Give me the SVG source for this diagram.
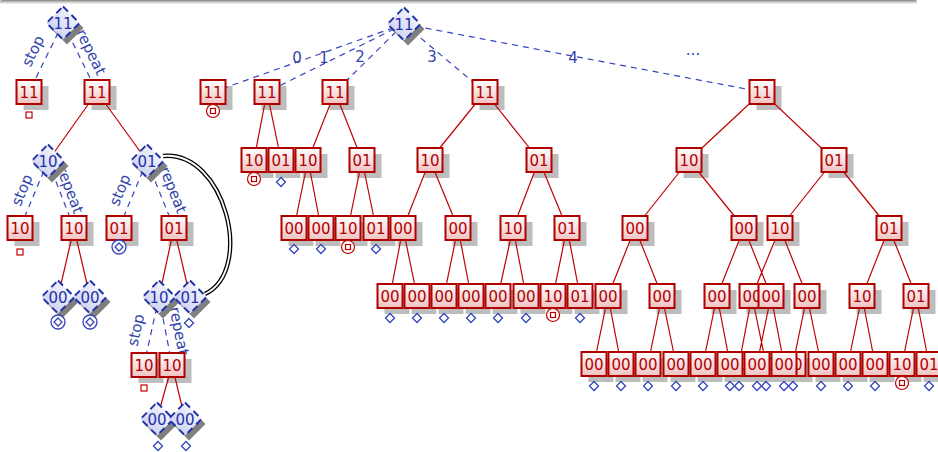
<svg xmlns="http://www.w3.org/2000/svg" xmlns:xlink="http://www.w3.org/1999/xlink" width="938" height="452" viewBox="0 0 938 452">
<style>
.box{fill:url(#gb);stroke:#b00000;stroke-width:2}
.bt{font-family:"DejaVu Sans",sans-serif;font-size:15px;fill:#b00000;text-anchor:middle}
.dia{fill:url(#gd);stroke:#2233aa;stroke-width:2;stroke-dasharray:7 5}
.dt{font-family:"DejaVu Sans",sans-serif;font-size:15px;fill:#2233aa;text-anchor:middle}
.sh{fill:#bdbdbd}
.dsh{fill:#7f7f7f}
.red{stroke:#c00000;stroke-width:1.2;fill:none}
.blu{stroke:#3344bb;stroke-width:1.2;fill:none;stroke-dasharray:6 5}
.mr{fill:#fff;stroke:#c00000;stroke-width:1.2}
.mb{fill:#fff;stroke:#3344bb;stroke-width:1.3}
.lab{font-family:"DejaVu Sans",sans-serif;font-size:15px;fill:#3344aa;text-anchor:middle;dominant-baseline:central}
</style>
<defs>
<linearGradient id="gb" x1="0" y1="0" x2="0" y2="1"><stop offset="0" stop-color="#ffffff"/><stop offset="1" stop-color="#f0c2c2"/></linearGradient>
<linearGradient id="gd" x1="0" y1="1" x2="1" y2="0"><stop offset="0" stop-color="#c2c7ee"/><stop offset="1" stop-color="#ffffff"/></linearGradient>
<linearGradient id="gt" x1="0" y1="0" x2="0" y2="1"><stop offset="0" stop-color="#707070" stop-opacity="0.9"/><stop offset="1" stop-color="#b0b0b0" stop-opacity="0"/></linearGradient>
<rect id="B" class="box" x="-12.5" y="-12" width="25" height="24"/>
<rect id="S" class="sh" x="-5.5" y="-6" width="25" height="24"/>
<polygon id="D" class="dia" points="0,-16.5 16.5,0 0,16.5 -16.5,0"/>
<polygon id="DS" class="dsh" points="4,-11.5 20.5,5 4,21.5 -12.5,5"/>
<rect id="msq" class="mr" x="-3" y="-3" width="6" height="6"/>
<g id="mcsq"><circle class="mr" r="6.5"/><rect class="mr" x="-2.5" y="-2.5" width="5" height="5"/></g>
<polygon id="mdia" class="mb" points="0,-4.5 4.5,0 0,4.5 -4.5,0"/>
<g id="mcdia"><circle class="mb" r="7"/><polygon class="mb" points="0,-4 4,0 0,4 -4,0"/></g>
</defs>
<rect x="0" y="0" width="917" height="4.5" rx="2" fill="url(#gt)"/>
<g id="shadows">
<use href="#S" x="29" y="92"/><use href="#S" x="97" y="92"/><use href="#S" x="20" y="228"/><use href="#S" x="74" y="228"/><use href="#S" x="119" y="228"/><use href="#S" x="174" y="228"/><use href="#S" x="144" y="365"/><use href="#S" x="172" y="365"/>
<use href="#S" x="213" y="92"/><use href="#S" x="267" y="92"/><use href="#S" x="335" y="92"/><use href="#S" x="485" y="92"/><use href="#S" x="762" y="92"/>
<use href="#S" x="254" y="160"/><use href="#S" x="281" y="160"/><use href="#S" x="308" y="160"/><use href="#S" x="362" y="160"/><use href="#S" x="430" y="160"/><use href="#S" x="539" y="160"/><use href="#S" x="689" y="160"/><use href="#S" x="834" y="160"/>
<use href="#S" x="294" y="228"/><use href="#S" x="321" y="228"/><use href="#S" x="348" y="228"/><use href="#S" x="376" y="228"/><use href="#S" x="403" y="228"/><use href="#S" x="458" y="228"/><use href="#S" x="513" y="228"/><use href="#S" x="567" y="228"/><use href="#S" x="635" y="228"/><use href="#S" x="744" y="228"/><use href="#S" x="780" y="228"/><use href="#S" x="889" y="228"/>
<use href="#S" x="390" y="296"/><use href="#S" x="417" y="296"/><use href="#S" x="444" y="296"/><use href="#S" x="471" y="296"/><use href="#S" x="498" y="296"/><use href="#S" x="526" y="296"/><use href="#S" x="553" y="296"/><use href="#S" x="580" y="296"/><use href="#S" x="608" y="296"/><use href="#S" x="662" y="296"/><use href="#S" x="752" y="296"/><use href="#S" x="807" y="296"/><use href="#S" x="717" y="296"/><use href="#S" x="771" y="296"/><use href="#S" x="862" y="296"/><use href="#S" x="916" y="296"/>
<use href="#S" x="594" y="364"/><use href="#S" x="621" y="364"/><use href="#S" x="648" y="364"/><use href="#S" x="676" y="364"/><use href="#S" x="739" y="364"/><use href="#S" x="766" y="364"/><use href="#S" x="793" y="364"/><use href="#S" x="821" y="364"/><use href="#S" x="703" y="364"/><use href="#S" x="730" y="364"/><use href="#S" x="757" y="364"/><use href="#S" x="784" y="364"/><use href="#S" x="848" y="364"/><use href="#S" x="875" y="364"/><use href="#S" x="902" y="364"/><use href="#S" x="929" y="364"/>
</g>
<g id="connectors">
<path class="blu" d="M63,23L29,92M63,23L97,92M48,161L20,228M48,161L74,228M147,161L119,228M147,161L174,228M159,297L144,365M159,297L172,365"/>
<path class="red" d="M97,92L48,161M97,92L147,161M74,228L58,297M74,228L90,297M174,228L159,297M174,228L190,297M172,365L157,419M172,365L185,419"/>
<path d="M163,156C225,150 255,270 205,294" fill="none" stroke="#000" stroke-width="4.4"/>
<path d="M163,156C225,150 255,270 205,294" fill="none" stroke="#fff" stroke-width="1.8"/>
<path class="blu" d="M404,24L213,92M404,24L267,92M404,24L335,92M404,24L485,92M404,24L762,92"/>
<path class="red" d="M267,92L254,160M267,92L281,160M335,92L308,160M335,92L362,160M308,160L294,228M308,160L321,228M362,160L348,228M362,160L376,228M485,92L430,160M485,92L539,160M430,160L403,228M430,160L458,228M403,228L390,296M403,228L417,296M458,228L444,296M458,228L471,296M539,160L513,228M539,160L567,228M513,228L498,296M513,228L526,296M567,228L553,296M567,228L580,296M762,92L689,160M762,92L834,160M689,160L635,228M689,160L744,228M635,228L608,296M635,228L662,296M608,296L594,364M608,296L621,364M662,296L648,364M662,296L676,364M744,228L717,296M744,228L771,296M717,296L703,364M717,296L730,364M771,296L757,364M771,296L784,364M834,160L780,228M834,160L889,228M780,228L752,296M780,228L807,296M752,296L739,364M752,296L766,364M807,296L793,364M807,296L821,364M889,228L862,296M889,228L916,296M862,296L848,364M862,296L875,364M916,296L902,364M916,296L929,364"/>
<text class="lab" transform="translate(33,51) rotate(-64)">stop</text>
<text class="lab" transform="translate(91,52) rotate(64)">repeat</text>
<text class="lab" transform="translate(22,190) rotate(-68)">stop</text>
<text class="lab" transform="translate(70,190) rotate(69)">repeat</text>
<text class="lab" transform="translate(120,190) rotate(-68)">stop</text>
<text class="lab" transform="translate(173,190) rotate(68)">repeat</text>
<text class="lab" transform="translate(136,330) rotate(-77)">stop</text>
<text class="lab" transform="translate(179,331) rotate(79)">repeat</text>
<text class="lab" x="297" y="58">0</text>
<text class="lab" x="324" y="58">1</text>
<text class="lab" x="360" y="57">2</text>
<text class="lab" x="432" y="57">3</text>
<text class="lab" x="573" y="58">4</text>
<text class="lab" x="693" y="50">...</text>
</g>
<g id="L0"><use href="#DS" x="63" y="23"/><use href="#D" x="63" y="23"/><text class="dt" x="63" y="28.5">11</text></g>
<g id="L1"><use href="#B" x="29" y="92"/><text class="bt" x="29" y="97.5">11</text><use href="#msq" x="29" y="115"/></g>
<g id="L2"><use href="#B" x="97" y="92"/><text class="bt" x="97" y="97.5">11</text></g>
<g id="L3"><use href="#DS" x="48" y="161"/><use href="#D" x="48" y="161"/><text class="dt" x="48" y="166.5">10</text></g>
<g id="L4"><use href="#DS" x="147" y="161"/><use href="#D" x="147" y="161"/><text class="dt" x="147" y="166.5">01</text></g>
<g id="L5"><use href="#B" x="20" y="228"/><text class="bt" x="20" y="233.5">10</text><use href="#msq" x="20" y="252"/></g>
<g id="L6"><use href="#B" x="74" y="228"/><text class="bt" x="74" y="233.5">10</text></g>
<g id="L7"><use href="#B" x="119" y="228"/><text class="bt" x="119" y="233.5">01</text><use href="#mcdia" x="119" y="247"/></g>
<g id="L8"><use href="#B" x="174" y="228"/><text class="bt" x="174" y="233.5">01</text></g>
<g id="L9"><use href="#DS" x="58" y="297"/><use href="#D" x="58" y="297"/><text class="dt" x="58" y="302.5">00</text><use href="#mcdia" x="58" y="322"/></g>
<g id="L10"><use href="#DS" x="90" y="297"/><use href="#D" x="90" y="297"/><text class="dt" x="90" y="302.5">00</text><use href="#mcdia" x="90" y="322"/></g>
<g id="L11"><use href="#DS" x="159" y="297"/><use href="#D" x="159" y="297"/><text class="dt" x="159" y="302.5">10</text></g>
<g id="L12"><use href="#DS" x="190" y="297"/><use href="#D" x="190" y="297"/><text class="dt" x="190" y="302.5">01</text><use href="#mdia" x="189" y="323"/></g>
<g id="L13"><use href="#B" x="144" y="365"/><text class="bt" x="144" y="370.5">10</text><use href="#msq" x="144" y="388"/></g>
<g id="L14"><use href="#B" x="172" y="365"/><text class="bt" x="172" y="370.5">10</text></g>
<g id="L15"><use href="#DS" x="157" y="419"/><use href="#D" x="157" y="419"/><text class="dt" x="157" y="424.5">00</text><use href="#mdia" x="158" y="446"/></g>
<g id="L16"><use href="#DS" x="185" y="419"/><use href="#D" x="185" y="419"/><text class="dt" x="185" y="424.5">00</text><use href="#mdia" x="186" y="446"/></g>
<g id="R0"><use href="#DS" x="404" y="24"/><use href="#D" x="404" y="24"/><text class="dt" x="404" y="29.5">11</text></g>
<g id="R1"><use href="#B" x="213" y="92"/><text class="bt" x="213" y="97.5">11</text><use href="#mcsq" x="213" y="111"/></g>
<g id="R2"><use href="#B" x="267" y="92"/><text class="bt" x="267" y="97.5">11</text></g>
<g id="R3"><use href="#B" x="335" y="92"/><text class="bt" x="335" y="97.5">11</text></g>
<g id="R4"><use href="#B" x="485" y="92"/><text class="bt" x="485" y="97.5">11</text></g>
<g id="R5"><use href="#B" x="762" y="92"/><text class="bt" x="762" y="97.5">11</text></g>
<g id="R6"><use href="#B" x="254" y="160"/><text class="bt" x="254" y="165.5">10</text><use href="#mcsq" x="254" y="179"/></g>
<g id="R7"><use href="#B" x="281" y="160"/><text class="bt" x="281" y="165.5">01</text><use href="#mdia" x="281" y="182"/></g>
<g id="R8"><use href="#B" x="308" y="160"/><text class="bt" x="308" y="165.5">10</text></g>
<g id="R9"><use href="#B" x="362" y="160"/><text class="bt" x="362" y="165.5">01</text></g>
<g id="R10"><use href="#B" x="294" y="228"/><text class="bt" x="294" y="233.5">00</text><use href="#mdia" x="294" y="249"/></g>
<g id="R11"><use href="#B" x="321" y="228"/><text class="bt" x="321" y="233.5">00</text><use href="#mdia" x="321" y="249"/></g>
<g id="R12"><use href="#B" x="348" y="228"/><text class="bt" x="348" y="233.5">10</text><use href="#mcsq" x="348" y="247"/></g>
<g id="R13"><use href="#B" x="376" y="228"/><text class="bt" x="376" y="233.5">01</text><use href="#mdia" x="376" y="249"/></g>
<g id="R14"><use href="#B" x="430" y="160"/><text class="bt" x="430" y="165.5">10</text></g>
<g id="R15"><use href="#B" x="539" y="160"/><text class="bt" x="539" y="165.5">01</text></g>
<g id="R16"><use href="#B" x="403" y="228"/><text class="bt" x="403" y="233.5">00</text></g>
<g id="R17"><use href="#B" x="458" y="228"/><text class="bt" x="458" y="233.5">00</text></g>
<g id="R18"><use href="#B" x="513" y="228"/><text class="bt" x="513" y="233.5">10</text></g>
<g id="R19"><use href="#B" x="567" y="228"/><text class="bt" x="567" y="233.5">01</text></g>
<g id="R20"><use href="#B" x="390" y="296"/><text class="bt" x="390" y="301.5">00</text><use href="#mdia" x="390" y="318"/></g>
<g id="R21"><use href="#B" x="417" y="296"/><text class="bt" x="417" y="301.5">00</text><use href="#mdia" x="417" y="318"/></g>
<g id="R22"><use href="#B" x="444" y="296"/><text class="bt" x="444" y="301.5">00</text><use href="#mdia" x="444" y="318"/></g>
<g id="R23"><use href="#B" x="471" y="296"/><text class="bt" x="471" y="301.5">00</text><use href="#mdia" x="471" y="318"/></g>
<g id="R24"><use href="#B" x="498" y="296"/><text class="bt" x="498" y="301.5">00</text><use href="#mdia" x="498" y="318"/></g>
<g id="R25"><use href="#B" x="526" y="296"/><text class="bt" x="526" y="301.5">00</text><use href="#mdia" x="526" y="318"/></g>
<g id="R26"><use href="#B" x="553" y="296"/><text class="bt" x="553" y="301.5">10</text><use href="#mcsq" x="553" y="315"/></g>
<g id="R27"><use href="#B" x="580" y="296"/><text class="bt" x="580" y="301.5">01</text><use href="#mdia" x="580" y="318"/></g>
<g id="R28"><use href="#B" x="689" y="160"/><text class="bt" x="689" y="165.5">10</text></g>
<g id="R29"><use href="#B" x="834" y="160"/><text class="bt" x="834" y="165.5">01</text></g>
<g id="R30"><use href="#B" x="635" y="228"/><text class="bt" x="635" y="233.5">00</text></g>
<g id="R31"><use href="#B" x="744" y="228"/><text class="bt" x="744" y="233.5">00</text></g>
<g id="R32"><use href="#B" x="780" y="228"/><text class="bt" x="780" y="233.5">10</text></g>
<g id="R33"><use href="#B" x="889" y="228"/><text class="bt" x="889" y="233.5">01</text></g>
<g id="R34"><use href="#B" x="608" y="296"/><text class="bt" x="608" y="301.5">00</text></g>
<g id="R35"><use href="#B" x="662" y="296"/><text class="bt" x="662" y="301.5">00</text></g>
<g id="R36"><use href="#B" x="752" y="296"/><text class="bt" x="752" y="301.5">00</text></g>
<g id="R37"><use href="#B" x="807" y="296"/><text class="bt" x="807" y="301.5">00</text></g>
<g id="R38"><use href="#B" x="717" y="296"/><text class="bt" x="717" y="301.5">00</text></g>
<g id="R39"><use href="#B" x="771" y="296"/><text class="bt" x="771" y="301.5">00</text></g>
<g id="R40"><use href="#B" x="862" y="296"/><text class="bt" x="862" y="301.5">10</text></g>
<g id="R41"><use href="#B" x="916" y="296"/><text class="bt" x="916" y="301.5">01</text></g>
<g id="R42"><use href="#B" x="594" y="364"/><text class="bt" x="594" y="369.5">00</text><use href="#mdia" x="594" y="386"/></g>
<g id="R43"><use href="#B" x="621" y="364"/><text class="bt" x="621" y="369.5">00</text><use href="#mdia" x="621" y="386"/></g>
<g id="R44"><use href="#B" x="648" y="364"/><text class="bt" x="648" y="369.5">00</text><use href="#mdia" x="648" y="386"/></g>
<g id="R45"><use href="#B" x="676" y="364"/><text class="bt" x="676" y="369.5">00</text><use href="#mdia" x="676" y="386"/></g>
<g id="R46"><use href="#B" x="739" y="364"/><text class="bt" x="739" y="369.5">00</text><use href="#mdia" x="739" y="386"/></g>
<g id="R47"><use href="#B" x="766" y="364"/><text class="bt" x="766" y="369.5">00</text><use href="#mdia" x="766" y="386"/></g>
<g id="R48"><use href="#B" x="793" y="364"/><text class="bt" x="793" y="369.5">00</text><use href="#mdia" x="793" y="386"/></g>
<g id="R49"><use href="#B" x="821" y="364"/><text class="bt" x="821" y="369.5">00</text><use href="#mdia" x="821" y="386"/></g>
<g id="R50"><use href="#B" x="703" y="364"/><text class="bt" x="703" y="369.5">00</text><use href="#mdia" x="703" y="386"/></g>
<g id="R51"><use href="#B" x="730" y="364"/><text class="bt" x="730" y="369.5">00</text><use href="#mdia" x="730" y="386"/></g>
<g id="R52"><use href="#B" x="757" y="364"/><text class="bt" x="757" y="369.5">00</text><use href="#mdia" x="757" y="386"/></g>
<g id="R53"><use href="#B" x="784" y="364"/><text class="bt" x="784" y="369.5">00</text><use href="#mdia" x="784" y="386"/></g>
<g id="R54"><use href="#B" x="848" y="364"/><text class="bt" x="848" y="369.5">00</text><use href="#mdia" x="848" y="386"/></g>
<g id="R55"><use href="#B" x="875" y="364"/><text class="bt" x="875" y="369.5">00</text><use href="#mdia" x="875" y="386"/></g>
<g id="R56"><use href="#B" x="902" y="364"/><text class="bt" x="902" y="369.5">10</text><use href="#mcsq" x="902" y="383"/></g>
<g id="R57"><use href="#B" x="929" y="364"/><text class="bt" x="929" y="369.5">01</text><use href="#mdia" x="929" y="386"/></g>
</svg>
